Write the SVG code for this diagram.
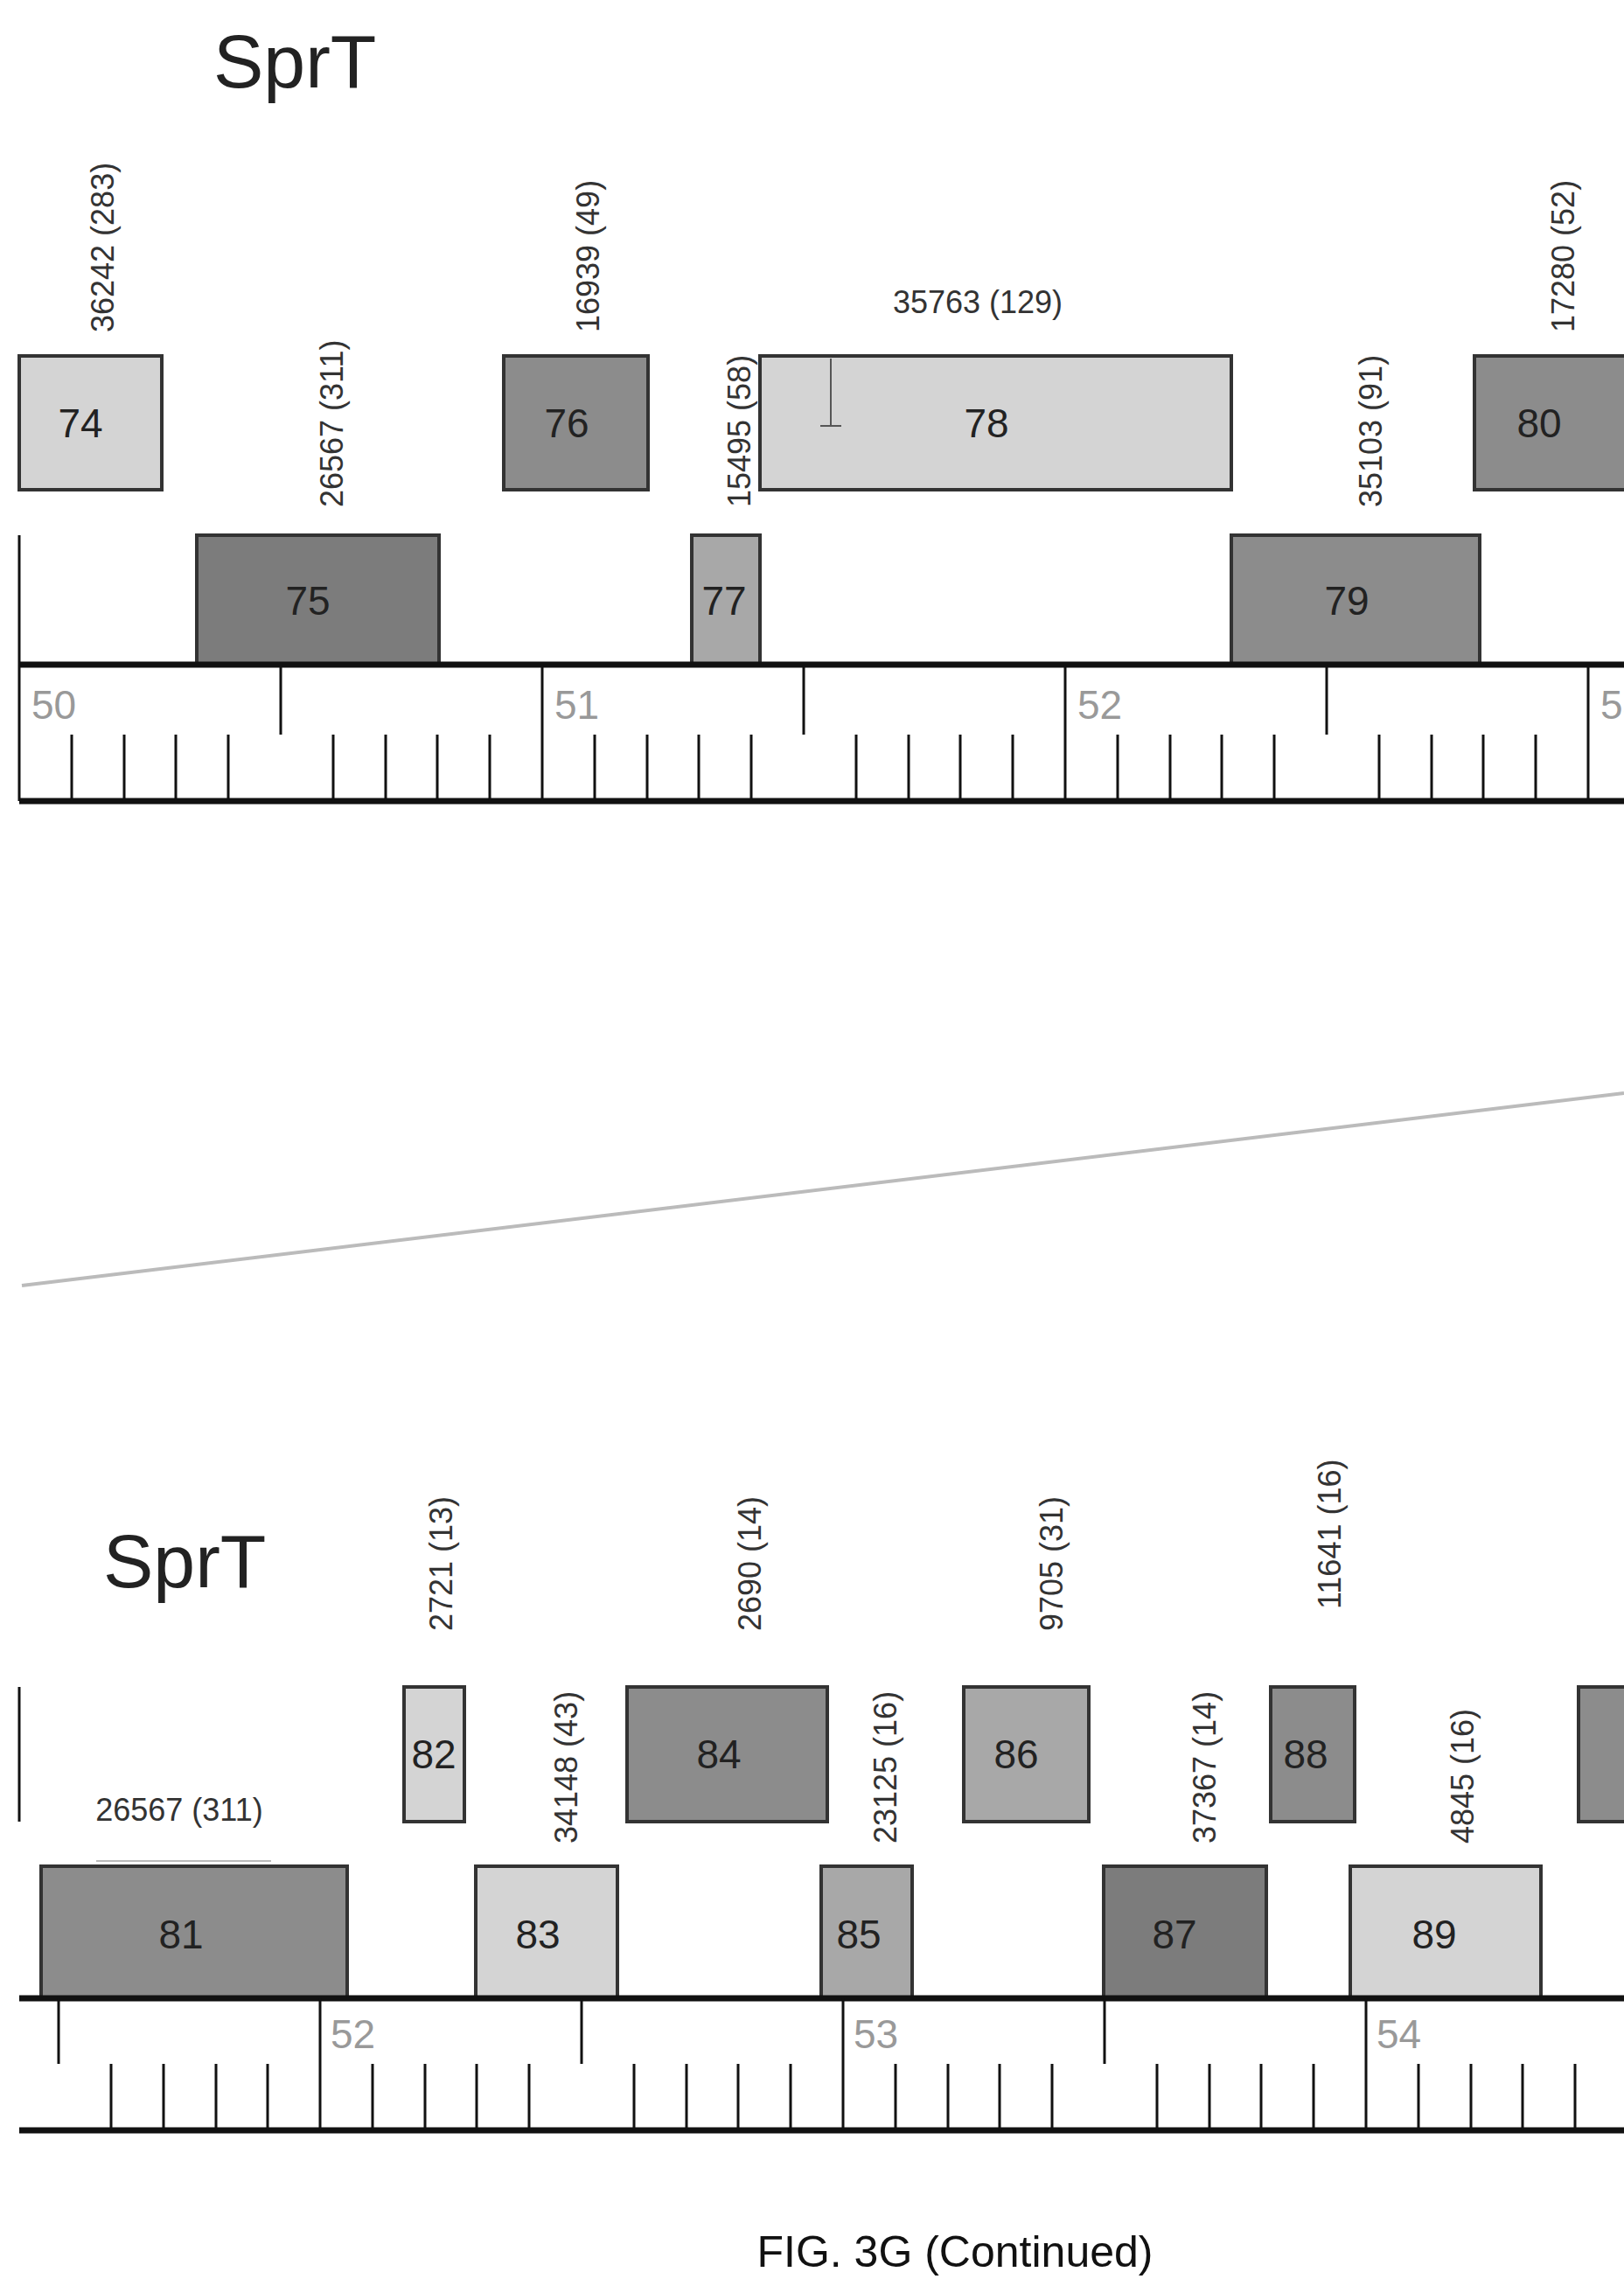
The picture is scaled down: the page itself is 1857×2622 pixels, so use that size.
<svg xmlns="http://www.w3.org/2000/svg" width="1857" height="2622" viewBox="0 0 1857 2622">
<style>
text{font-family:"Liberation Sans",Arial,sans-serif}
.t{font-size:86px;fill:#222}
.b{stroke:#333;stroke-width:4}
.l{fill:#d4d4d4}.m{fill:#a8a8a8}.d{fill:#8c8c8c}.k{fill:#7c7c7c}
.n{font-size:46px;fill:#222;text-anchor:middle}
.v{font-size:36px;fill:#333}
.h{font-size:36px;fill:#333;text-anchor:middle}
.ax{font-size:46px;fill:#999}
.tk{stroke:#111;stroke-width:3;fill:none}
.ln{stroke:#111;stroke-width:7}
</style>
<rect width="1857" height="2622" fill="#fff"/>
<text class="t" x="244" y="100">SprT</text>
<g id="labels-top">
<text class="v" transform="translate(130,380) rotate(-90)">36242 (283)</text>
<text class="v" transform="translate(392,580) rotate(-90)">26567 (311)</text>
<text class="v" transform="translate(685,380) rotate(-90)">16939 (49)</text>
<text class="v" transform="translate(858,580) rotate(-90)">15495 (58)</text>
<text class="h" x="1118" y="358">35763 (129)</text>
<text class="v" transform="translate(1580,580) rotate(-90)">35103 (91)</text>
<text class="v" transform="translate(1800,380) rotate(-90)">17280 (52)</text>
</g>
<g id="n74"><rect class="b l" x="22" y="407" width="163" height="153"/><text class="n" x="92" y="500">74</text></g>
<g id="n76"><rect class="b d" x="576" y="407" width="165" height="153"/><text class="n" x="648" y="500">76</text></g>
<g id="n78"><rect class="b l" x="869" y="407" width="539" height="153"/><text class="n" x="1128" y="500">78</text><path d="M950 410V487M938 487H962" stroke="#555" stroke-width="2"/></g>
<g id="n80"><rect class="b d" x="1686" y="407" width="180" height="153"/><text class="n" x="1760" y="500">80</text></g>
<g id="n75"><rect class="b k" x="225" y="612" width="277" height="148"/><text class="n" x="352" y="703">75</text></g>
<g id="n77"><rect class="b m" x="791" y="612" width="78" height="148"/><text class="n" x="828" y="703">77</text></g>
<g id="n79"><rect class="b d" x="1408" y="612" width="284" height="148"/><text class="n" x="1540" y="703">79</text></g>
<g id="axis-top">
<path class="tk" d="M22 612V760"/>
<path class="ln" d="M22 760H1857M22 916H1857"/>
<path class="tk" d="M22 760V916M620 760V916M1218 760V916M1816 760V916M321 760V840M919 760V840M1517 760V840
M82 840V916M142 840V916M201 840V916M261 840V916M381 840V916M441 840V916M500 840V916M560 840V916
M680 840V916M740 840V916M799 840V916M859 840V916M979 840V916M1039 840V916M1098 840V916M1158 840V916
M1278 840V916M1338 840V916M1397 840V916M1457 840V916M1577 840V916M1637 840V916M1696 840V916M1756 840V916"/>
<text class="ax" x="36" y="822">50</text><text class="ax" x="634" y="822">51</text><text class="ax" x="1232" y="822">52</text><text class="ax" x="1830" y="822">53</text>
</g>
<g id="connectors"><path d="M25 1470L1857 1250" stroke="#bbb" stroke-width="4"/></g>
<text class="t" x="118" y="1815">SprT</text>
<g id="labels-bottom">
<text class="h" x="205" y="2082">26567 (311)</text>
<path d="M110 2128H310" stroke="#bbb" stroke-width="2"/>
<text class="v" transform="translate(517,1865) rotate(-90)">2721 (13)</text>
<text class="v" transform="translate(660,2108) rotate(-90)">34148 (43)</text>
<text class="v" transform="translate(870,1865) rotate(-90)">2690 (14)</text>
<text class="v" transform="translate(1025,2108) rotate(-90)">23125 (16)</text>
<text class="v" transform="translate(1215,1865) rotate(-90)">9705 (31)</text>
<text class="v" transform="translate(1390,2108) rotate(-90)">37367 (14)</text>
<text class="v" transform="translate(1533,1840) rotate(-90)">11641 (16)</text>
<text class="v" transform="translate(1685,2108) rotate(-90)">4845 (16)</text>
</g>
<path class="tk" d="M22 1929V2083"/>
<g id="n82"><rect class="b l" x="462" y="1929" width="69" height="154"/><text class="n" x="496" y="2022">82</text></g>
<g id="n84"><rect class="b d" x="717" y="1929" width="229" height="154"/><text class="n" x="822" y="2022">84</text></g>
<g id="n86"><rect class="b m" x="1102" y="1929" width="143" height="154"/><text class="n" x="1162" y="2022">86</text></g>
<g id="n88"><rect class="b d" x="1453" y="1929" width="96" height="154"/><text class="n" x="1493" y="2022">88</text></g>
<g id="n90"><rect class="b d" x="1805" y="1929" width="60" height="154"/></g>
<g id="n81"><rect class="b d" x="47" y="2134" width="350" height="151"/><text class="n" x="207" y="2228">81</text></g>
<g id="n83"><rect class="b l" x="544" y="2134" width="162" height="151"/><text class="n" x="615" y="2228">83</text></g>
<g id="n85"><rect class="b m" x="939" y="2134" width="104" height="151"/><text class="n" x="982" y="2228">85</text></g>
<g id="n87"><rect class="b k" x="1262" y="2134" width="186" height="151"/><text class="n" x="1343" y="2228">87</text></g>
<g id="n89"><rect class="b l" x="1544" y="2134" width="218" height="151"/><text class="n" x="1640" y="2228">89</text></g>
<g id="axis-bottom">
<path class="ln" d="M22 2285H1857M22 2436H1857"/>
<path class="tk" d="M366 2285V2436M964 2285V2436M1562 2285V2436M67 2285V2360M665 2285V2360M1263 2285V2360
M127 2360V2436M187 2360V2436M247 2360V2436M306 2360V2436
M426 2360V2436M486 2360V2436M545 2360V2436M605 2360V2436M725 2360V2436M785 2360V2436M844 2360V2436M904 2360V2436
M1024 2360V2436M1084 2360V2436M1143 2360V2436M1203 2360V2436M1323 2360V2436M1383 2360V2436M1442 2360V2436M1502 2360V2436
M1622 2360V2436M1682 2360V2436M1741 2360V2436M1801 2360V2436"/>
<text class="ax" x="378" y="2342">52</text><text class="ax" x="976" y="2342">53</text><text class="ax" x="1574" y="2342">54</text>
</g>
<text x="1092" y="2592" font-family="Carlito,'Liberation Sans',sans-serif" font-size="50" text-anchor="middle" fill="#111">FIG. 3G (Continued)</text>
</svg>
